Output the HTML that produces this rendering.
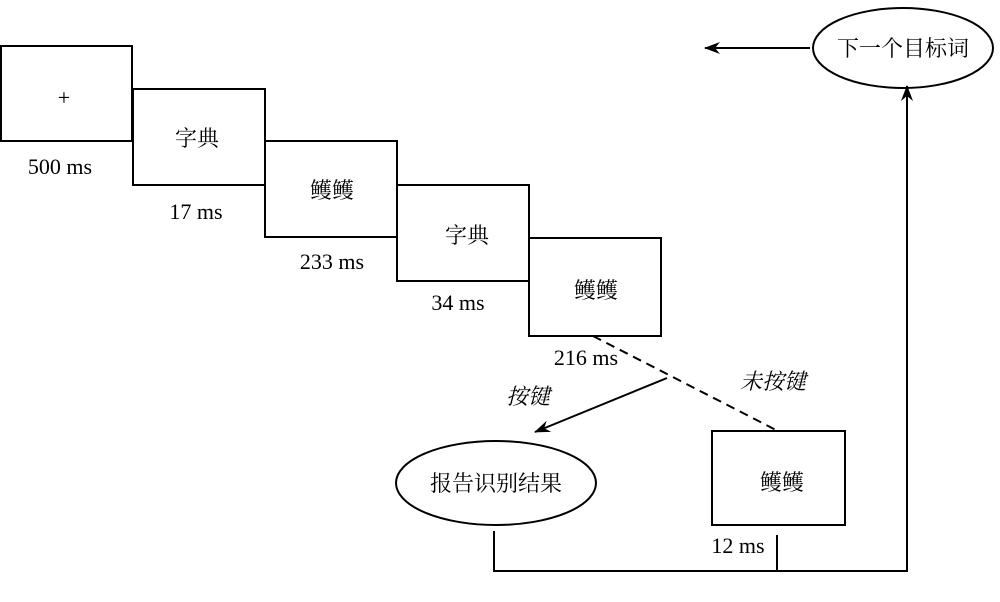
<!DOCTYPE html>
<html><head><meta charset="utf-8"><style>
body{margin:0;background:#fff}
text{font-family:"Liberation Serif","Noto Serif CJK SC",serif;font-size:22px;fill:#000}
</style></head><body>
<svg width="1000" height="597" viewBox="0 0 1000 597" xmlns="http://www.w3.org/2000/svg">
<defs><marker id="a" markerWidth="16" markerHeight="12" refX="15" refY="6" orient="auto" markerUnits="userSpaceOnUse"><path d="M0,0 L16,6 L0,12 L5,6 Z" fill="#000"/></marker></defs>
<g fill="#fff" stroke="#000" stroke-width="2">
<rect x="1" y="46" width="131" height="95"/>
<rect x="133" y="89" width="132" height="96"/>
<rect x="265" y="141" width="132" height="96"/>
<rect x="397" y="185" width="132" height="96"/>
<rect x="529" y="238" width="132" height="98"/>
<rect x="712" y="431" width="133" height="94"/>
<ellipse cx="496" cy="483" rx="100" ry="42"/>
<ellipse cx="903" cy="48" rx="90" ry="40"/>
</g>
<g stroke="#000" stroke-width="2" fill="none">
<line x1="593" y1="336" x2="776" y2="430" stroke-dasharray="9,6"/>
<line x1="667" y1="378" x2="535" y2="432" marker-end="url(#a)"/>
<polyline points="494,531 494,571 907,571 907,86" marker-end="url(#a)"/>
<polyline points="777,535 777,570"/>
<line x1="810" y1="48" x2="705" y2="48" marker-end="url(#a)"/>
</g>
<g text-anchor="middle">
<text x="64" y="105">+</text>
<text x="60" y="174">500 ms</text>
<text x="197" y="146">字典</text>
<text x="196" y="219">17 ms</text>
<text x="332" y="198">鳠鳠</text>
<text x="332" y="269">233 ms</text>
<text x="467" y="243">字典</text>
<text x="458" y="310">34 ms</text>
<text x="596" y="298">鳠鳠</text>
<text x="586" y="365">216 ms</text>
<text x="528" y="404" font-style="italic">按键</text>
<text x="773" y="389" font-style="italic">未按键</text>
<text x="496" y="491">报告识别结果</text>
<text x="782" y="490">鳠鳠</text>
<text x="738" y="553">12 ms</text>
<text x="903" y="56">下一个目标词</text>
</g>
</svg>
</body></html>
